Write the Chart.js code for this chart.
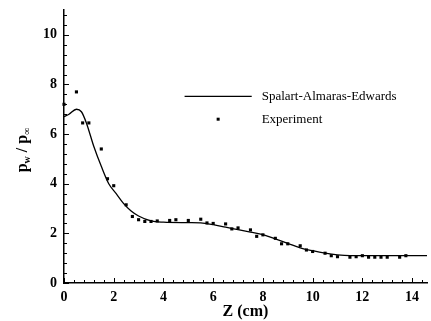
<!DOCTYPE html>
<html>
<head>
<meta charset="utf-8">
<script src="https://cdn.jsdelivr.net/npm/chart.js@4/dist/chart.umd.min.js"></script>
<style>
html,body{margin:0;padding:0;background:#fff;}
#wrap{width:431px;height:321px;}
</style>
</head>
<body>
<div id="wrap"><canvas id="c" width="431" height="321"></canvas></div>
<script>
// Spalart-Almaras-Edwards curve
const modelZ = [0, 0.2, 0.5, 0.7, 0.9, 1.2, 1.5, 1.8, 2.1, 2.4, 2.7, 3.0, 3.5, 4.0, 5.0, 5.5, 6.0, 6.5, 7.0, 7.5, 8.0, 8.5, 9.0, 9.5, 10.0, 10.5, 11.0, 11.5, 12.0, 13.0, 14.6];
const modelP = [6.7, 6.8, 7.0, 6.9, 6.45, 5.5, 4.7, 4.0, 3.6, 3.2, 2.9, 2.7, 2.5, 2.45, 2.43, 2.42, 2.35, 2.25, 2.15, 2.05, 1.95, 1.78, 1.6, 1.42, 1.3, 1.2, 1.13, 1.1, 1.1, 1.1, 1.1];
// Experiment
const expZ = [0, 0.5, 0.75, 1.0, 1.5, 1.75, 2.0, 2.5, 2.75, 3.0, 3.25, 3.5, 3.75, 4.25, 4.5, 5.0, 5.5, 5.75, 6.0, 6.5, 6.75, 7.0, 7.5, 7.75, 8.0, 8.5, 8.75, 9.0, 9.5, 9.75, 10.0, 10.5, 10.75, 11.0, 11.5, 11.75, 12.0, 12.25, 12.5, 12.75, 13.0, 13.5, 13.75];
const expP = [7.2, 7.7, 6.45, 6.45, 5.4, 4.2, 3.92, 3.15, 2.68, 2.55, 2.48, 2.48, 2.5, 2.52, 2.55, 2.52, 2.57, 2.42, 2.4, 2.38, 2.18, 2.22, 2.14, 1.88, 1.94, 1.8, 1.58, 1.58, 1.5, 1.33, 1.27, 1.2, 1.1, 1.06, 1.04, 1.06, 1.1, 1.04, 1.04, 1.04, 1.04, 1.04, 1.1];
const seriesNames = ["Spalart-Almaras-Edwards", "Experiment"];
const xTitle = "Z (cm)";

const SERIF = "'Liberation Serif', 'DejaVu Serif', serif";

const decor = {
  id: 'decor',
  afterDraw(chart) {
    const ctx = chart.ctx;
    const xs = chart.scales.x, ys = chart.scales.y;
    const ca = chart.chartArea;
    ctx.save();
    ctx.strokeStyle = '#000';
    ctx.lineWidth = 1;
    for (let i = 0; i * 0.4 <= xs.max + 1e-9; i++) {
      const px = Math.round(xs.getPixelForValue(i * 0.4)) + 0.5;
      const len = (i % 5 === 0) ? 5 : 3;
      ctx.beginPath();
      ctx.moveTo(px, ca.bottom);
      ctx.lineTo(px, ca.bottom - len);
      ctx.stroke();
    }
    for (let i = 0; i * 0.4 <= ys.max + 1e-9; i++) {
      const py = Math.round(ys.getPixelForValue(i * 0.4)) + 0.5;
      const len = (i % 5 === 0) ? 5 : 3;
      ctx.beginPath();
      ctx.moveTo(ca.left, py);
      ctx.lineTo(ca.left + len, py);
      ctx.stroke();
    }
    ctx.fillStyle = '#000';
    ctx.translate(23, 150);
    ctx.rotate(-Math.PI / 2);
    const big = "bold 16px " + SERIF, small = "bold 10px " + SERIF;
    const parts = [["p", big, 0], ["w", small, 4], [" / ", big, 0], ["p", big, 0], ["\u221e", small, 4]];
    let w = 0;
    parts.forEach(p => { ctx.font = p[1]; w += ctx.measureText(p[0]).width; });
    let x0 = -w / 2;
    ctx.textBaseline = 'middle';
    parts.forEach(p => { ctx.font = p[1]; ctx.fillText(p[0], x0, p[2]); x0 += ctx.measureText(p[0]).width; });
    ctx.restore();

    ctx.save();
    const lx1 = xs.getPixelForValue(4.85), lx2 = xs.getPixelForValue(7.55);
    const ly1 = ys.getPixelForValue(7.52), ly2 = ys.getPixelForValue(6.6);
    ctx.strokeStyle = '#000';
    ctx.lineWidth = 1.3;
    ctx.beginPath();
    ctx.moveTo(lx1, ly1); ctx.lineTo(lx2, ly1); ctx.stroke();
    ctx.fillStyle = '#000';
    ctx.fillRect((lx1 + lx2) / 2 - 1.5, ly2 - 1.5, 3, 3);
    ctx.font = "13px " + SERIF;
    ctx.textBaseline = 'middle';
    const tx = xs.getPixelForValue(7.95);
    ctx.fillText(seriesNames[0], tx, ly1);
    ctx.fillText(seriesNames[1], tx, ly2);
    ctx.restore();
  }
};

new Chart(document.getElementById('c'), {
  type: 'scatter',
  data: {
    datasets: [
      {
        label: seriesNames[0],
        type: 'line',
        data: modelZ.map((z, i) => ({x: z, y: modelP[i]})),
        borderColor: '#000',
        borderWidth: 1.3,
        pointRadius: 0,
        tension: 0.4,
        cubicInterpolationMode: 'monotone',
        fill: false,
        clip: false
      },
      {
        label: seriesNames[1],
        data: expZ.map((z, i) => ({x: z, y: expP[i]})),
        pointStyle: 'rect',
        pointRadius: 2.2,
        backgroundColor: '#000',
        borderColor: '#000',
        borderWidth: 0,
        clip: false
      }
    ]
  },
  options: {
    responsive: false,
    animation: false,
    devicePixelRatio: 1,
    layout: {padding: {top: 10, right: 1, left: 0, bottom: 0}},
    plugins: {legend: {display: false}, tooltip: {enabled: false}},
    scales: {
      x: {
        type: 'linear', min: 0, max: 14.6,
        afterFit(s) { s.height = 38; s.paddingLeft = 0; s.paddingRight = 0; },
        border: {display: true, color: '#000', width: 1.5},
        grid: {display: false, drawTicks: false},
        ticks: {stepSize: 2, includeBounds: false, padding: 6, color: '#000', maxRotation: 0,
                font: {family: SERIF, size: 14, weight: 'bold'}},
        title: {display: true, text: xTitle, color: '#000', padding: {top: 0, bottom: 0},
                font: {family: SERIF, size: 16, weight: 'bold'}}
      },
      y: {
        type: 'linear', min: 0, max: 11,
        afterFit(s) { s.width = 64; s.paddingTop = 0; s.paddingBottom = 0; },
        border: {display: true, color: '#000', width: 1.5},
        grid: {display: false, drawTicks: false},
        ticks: {stepSize: 2, includeBounds: false, padding: 7, color: '#000',
                font: {family: SERIF, size: 14, weight: 'bold'}}
      }
    }
  },
  plugins: [decor]
});
</script>
</body>
</html>
